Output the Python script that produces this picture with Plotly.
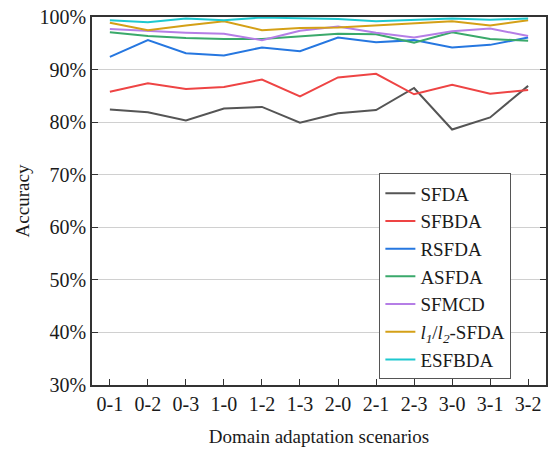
import plotly.graph_objects as go

# Domain adaptation scenarios (source-target)
scenarios = ["0-1", "0-2", "0-3", "1-0", "1-2", "1-3", "2-0", "2-1", "2-3", "3-0", "3-1", "3-2"]

# Accuracy (%) of each method per scenario
sfda   = [82.4, 81.9, 80.3, 82.6, 82.9, 79.9, 81.7, 82.3, 86.5, 78.6, 80.9, 86.9]
sfbda  = [85.8, 87.4, 86.3, 86.7, 88.1, 84.9, 88.5, 89.2, 85.3, 87.1, 85.4, 86.1]
rsfda  = [92.4, 95.6, 93.1, 92.7, 94.2, 93.5, 96.1, 95.2, 95.6, 94.2, 94.7, 96.1]
asfda  = [97.1, 96.4, 96.0, 95.8, 95.8, 96.3, 96.8, 96.7, 95.1, 97.1, 95.8, 95.5]
sfmcd  = [97.7, 97.3, 97.0, 96.8, 95.6, 97.4, 98.2, 97.0, 96.1, 97.3, 97.8, 96.4]
l1l2   = [98.9, 97.5, 98.4, 99.2, 97.5, 97.9, 98.0, 98.4, 98.7, 99.2, 98.4, 99.4]
esfbda = [99.4, 99.0, 99.7, 99.4, 99.9, 99.7, 99.6, 99.2, 99.4, 99.7, 99.5, 99.7]

series = [
    ("SFDA", sfda, "#555555"),
    ("SFBDA", sfbda, "#ee4444"),
    ("RSFDA", rsfda, "#2677e0"),
    ("ASFDA", asfda, "#3aa96b"),
    ("SFMCD", sfmcd, "#b57ee6"),
    ("<i>l<sub>1</sub></i>/<i>l<sub>2</sub></i>-SFDA", l1l2, "#d4a017"),
    ("ESFBDA", esfbda, "#1ec8cf"),
]

yticks = [30, 40, 50, 60, 70, 80, 90, 100]
yticklabels = [f"{v}%" for v in yticks]

font_family = "Liberation Serif, Times New Roman, serif"

fig = go.Figure()
for name, vals, color in series:
    fig.add_trace(go.Scatter(
        x=list(range(len(scenarios))), y=vals, name=name, mode="lines",
        line=dict(color=color, width=2),
    ))

fig.update_layout(
    width=553, height=452,
    margin=dict(l=92, r=5, t=17, b=67),
    paper_bgcolor="white", plot_bgcolor="white",
    font=dict(family=font_family, size=20, color="#1a1a1a"),
    showlegend=True,
    legend=dict(
        x=0.633, y=0.575, xanchor="left", yanchor="top",
        bgcolor="white", bordercolor="#555555", borderwidth=1,
        font=dict(family=font_family, size=19, color="#1a1a1a"),
        tracegroupgap=0, itemwidth=30,
    ),
)

fig.update_xaxes(
    range=[-0.47, 11.47],
    tickmode="array", tickvals=list(range(len(scenarios))), ticktext=scenarios,
    ticks="inside", ticklen=6, tickcolor="#333333",
    showline=True, linecolor="#333333", linewidth=1.5, mirror=True,
    showgrid=False, zeroline=False,
    tickfont=dict(size=20),
    title=dict(text="Domain adaptation scenarios", font=dict(size=19), standoff=16),
)
fig.update_yaxes(
    range=[30, 100],
    tickmode="array", tickvals=yticks, ticktext=yticklabels,
    ticks="inside", ticklen=6, tickcolor="#333333",
    showline=True, linecolor="#333333", linewidth=1.5, mirror="ticks",
    showgrid=True, gridcolor="#d0d0d0", gridwidth=1, zeroline=False,
    tickfont=dict(size=20),
    title=dict(text="Accuracy", font=dict(size=19), standoff=5),
)

fig.write_html("out.html")
